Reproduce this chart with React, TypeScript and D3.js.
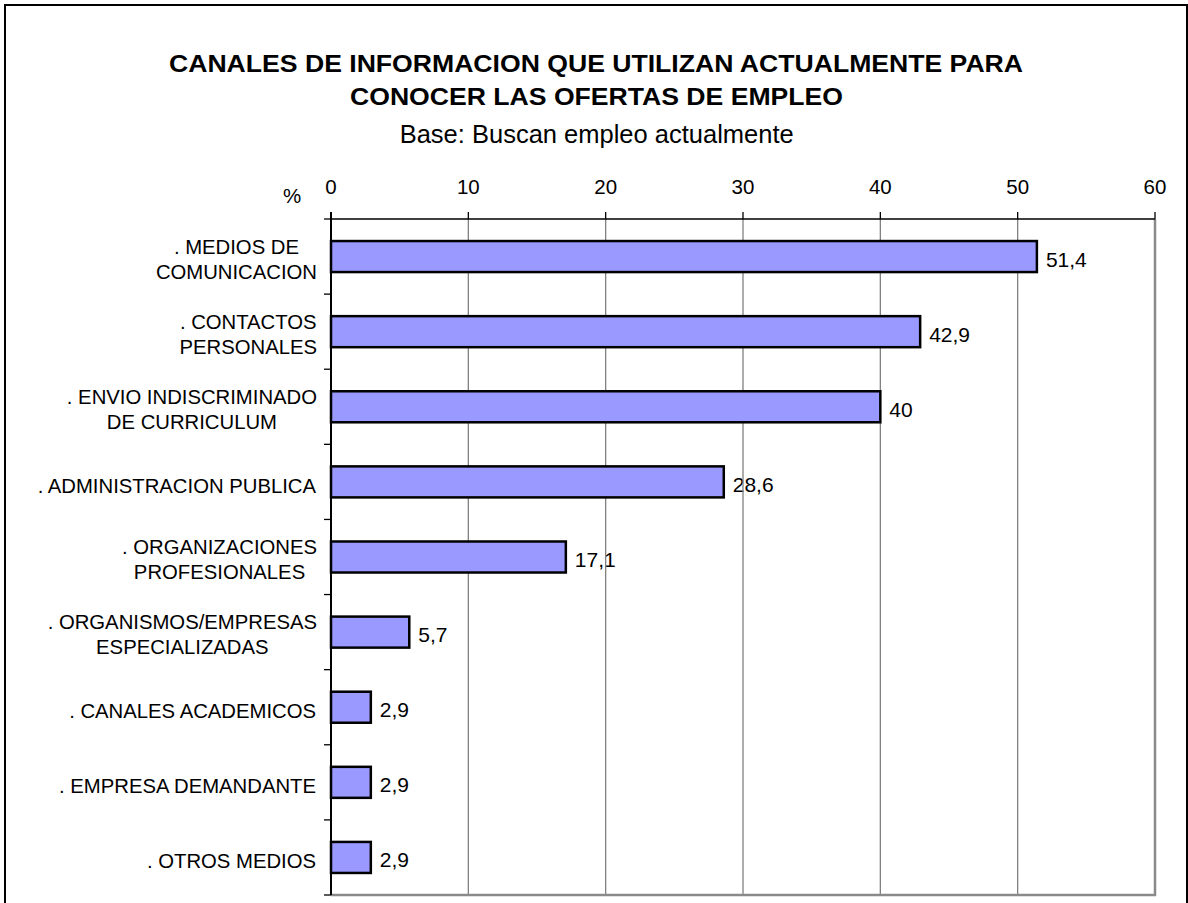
import React from "react";
import * as d3 from "d3";

const categoryLines: string[][] = [
  [". MEDIOS DE", "COMUNICACION"],
  [". CONTACTOS", "PERSONALES"],
  [". ENVIO INDISCRIMINADO", "DE CURRICULUM"],
  [". ADMINISTRACION PUBLICA"],
  [". ORGANIZACIONES", "PROFESIONALES"],
  [". ORGANISMOS/EMPRESAS", "ESPECIALIZADAS"],
  [". CANALES ACADEMICOS"],
  [". EMPRESA DEMANDANTE"],
  [". OTROS MEDIOS"],
];
const values: number[] = [51.4, 42.9, 40, 28.6, 17.1, 5.7, 2.9, 2.9, 2.9];
const xTicks: number[] = [0, 10, 20, 30, 40, 50, 60];
const titleLines: string[] = [
  "CANALES DE INFORMACION QUE UTILIZAN ACTUALMENTE PARA",
  "CONOCER LAS OFERTAS DE EMPLEO",
];
const subtitle = "Base: Buscan empleo actualmente";
const unitLabel = "%";

const FONT = "'Liberation Sans', Arial, Helvetica, sans-serif";
const W = 1188;
const H = 903;
const plot = { left: 331, right: 1155, top: 219, bottom: 895 };

let measureCtx: CanvasRenderingContext2D | null = null;
function measure(text: string, size: number): number {
  if (!measureCtx) {
    const c = document.createElement("canvas");
    measureCtx = c.getContext("2d");
  }
  if (!measureCtx) return text.length * size * 0.55;
  measureCtx.font = `${size}px ${FONT}`;
  return measureCtx.measureText(text).width;
}

export default function App() {
  const x = d3.scaleLinear().domain([0, 60]).range([plot.left, plot.right]);
  const idx = categoryLines.map((_, i) => String(i));
  const y = d3
    .scaleBand<string>()
    .domain(idx)
    .range([plot.top, plot.bottom])
    .paddingInner(0.587)
    .paddingOuter(0.587 / 2);
  const step = y.step();
  const fmt = (v: number) => String(v).replace(".", ",");
  const catSize = 20.3;
  const labelRight = 317;

  return (
    <svg
      width={W}
      height={H}
      style={{ position: "absolute", left: 0, top: 0, display: "block", background: "#fff" }}
      fontFamily={FONT}
    >
      <rect x={0} y={0} width={W} height={H} fill="#fff" />
      {/* outer frame */}
      <rect x={5} y={5} width={1182} height={1000} fill="none" stroke="#000" strokeWidth={2} />

      {/* title */}
      <text x={596} y={72} textAnchor="middle" fontSize={24} fontWeight="bold" textLength={854} lengthAdjust="spacingAndGlyphs">
        {titleLines[0]}
      </text>
      <text x={596.5} y={104.5} textAnchor="middle" fontSize={24} fontWeight="bold" textLength={493} lengthAdjust="spacingAndGlyphs">
        {titleLines[1]}
      </text>
      <text x={596.7} y={143} textAnchor="middle" fontSize={25.5}>
        {subtitle}
      </text>

      {/* unit label */}
      <text x={292} y={203} textAnchor="middle" fontSize={20.5}>
        {unitLabel}
      </text>

      {/* x tick labels */}
      {xTicks.map((t) => (
        <text key={"xt" + t} x={x(t)} y={194} textAnchor="middle" fontSize={20.5}>
          {t}
        </text>
      ))}

      {/* category labels */}
      {categoryLines.map((lines, i) => {
        const c = (y(String(i)) as number) + y.bandwidth() / 2;
        const maxW = Math.max(...lines.map((l) => measure(l, catSize)));
        const cx = labelRight - maxW / 2;
        if (lines.length === 1) {
          return (
            <text key={"cl" + i} x={labelRight - 1} y={c + 11} textAnchor="end" fontSize={catSize}>
              {lines[0]}
            </text>
          );
        }
        return (
          <g key={"cl" + i}>
            {lines.map((l, j) => (
              <text key={j} x={cx} y={c - 3 + j * 25} textAnchor="middle" fontSize={catSize}>
                {l}
              </text>
            ))}
          </g>
        );
      })}

      {/* value labels */}
      {values.map((v, i) => {
        const c = (y(String(i)) as number) + y.bandwidth() / 2;
        return (
          <text key={"vl" + i} x={x(v) + 9} y={c + 10} fontSize={21}>
            {fmt(v)}
          </text>
        );
      })}

      {/* gridlines */}
      {xTicks
        .filter((t) => t > 0)
        .map((t) => (
          <line key={"g" + t} x1={x(t)} x2={x(t)} y1={plot.top} y2={plot.bottom} stroke="#808080" strokeWidth={1.3} />
        ))}

      {/* plot border right / bottom */}
      <line x1={plot.right} x2={plot.right} y1={plot.top} y2={plot.bottom + 1} stroke="#8a8a8a" strokeWidth={2.5} />
      <line x1={plot.left} x2={plot.right + 1} y1={plot.bottom} y2={plot.bottom} stroke="#8a8a8a" strokeWidth={2.5} />

      {/* bars */}
      {values.map((v, i) => (
        <rect
          key={"b" + i}
          x={x(0)}
          y={y(String(i)) as number}
          width={x(v) - x(0)}
          height={y.bandwidth()}
          fill="#9999FF"
          stroke="#000"
          strokeWidth={2.5}
        />
      ))}

      {/* top axis */}
      <line x1={plot.left} x2={plot.right} y1={plot.top} y2={plot.top} stroke="#000" strokeWidth={1.3} />
      {xTicks.map((t) => (
        <line key={"tk" + t} x1={x(t)} x2={x(t)} y1={plot.top - 7} y2={plot.top} stroke="#000" strokeWidth={1.3} />
      ))}

      {/* left axis */}
      <line x1={plot.left} x2={plot.left} y1={plot.top - 7} y2={plot.bottom} stroke="#000" strokeWidth={2} />
      {d3.range(categoryLines.length + 1).map((k) => (
        <line
          key={"yt" + k}
          x1={plot.left - 7}
          x2={plot.left}
          y1={plot.top + k * step}
          y2={plot.top + k * step}
          stroke="#000"
          strokeWidth={1.3}
        />
      ))}
    </svg>
  );
}
